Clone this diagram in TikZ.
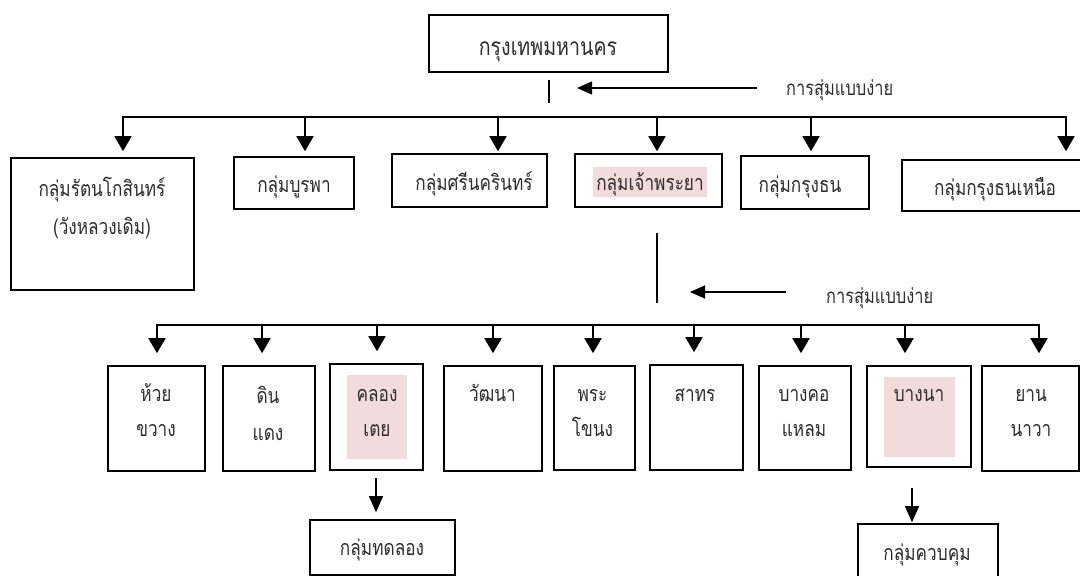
\documentclass[tikz,border=0pt]{standalone}
\usepackage{fontspec}
\newfontfamily\thaifont[Script=Thai,FakeStretch=0.8]{Loma}
\usetikzlibrary{arrows.meta,calc}
\definecolor{hlpink}{RGB}{242,220,219}
\definecolor{txt}{RGB}{45,45,45}
\begin{document}
\begin{tikzpicture}[x=1pt,y=-1pt,
  box/.style={draw=black, line width=1.6pt, inner sep=0pt},
  hl/.style={fill=hlpink, draw=none, inner sep=0pt},
  tx/.style={font=\thaifont\fontsize{21.5}{21.5}\selectfont, text=txt, inner sep=0pt, anchor=base},
  txbig/.style={tx, font=\thaifont\fontsize{24.5}{24.5}\selectfont},
  txlab/.style={tx, font=\thaifont\fontsize{20.5}{20.5}\selectfont, anchor=base west},
  bus/.style={line width=1.8pt},
  arr/.style={line width=1.8pt, -{Triangle[length=15pt,width=17pt]}},
  arrsm/.style={line width=1.3pt, -{Triangle[length=16pt,width=14pt]}},
  samp/.style={line width=1.2pt, -{Triangle[length=15pt,width=13pt]}},
  thin/.style={line width=1.4pt}]
\clip (0,0) rectangle (1080,576);
\fill[white] (0,0) rectangle (1080,576);

% top
\node[box, minimum width=239pt, minimum height=57pt] (top) at (548.5,43.5) {};
\node[txbig] (ttop) at (548,55) {กรุงเทพมหานคร};
\coordinate (v1a) at (549,80);
\coordinate (v1b) at (549,103);
\draw[thin] (v1a) -- (v1b);
\coordinate (a1) at (577,88);
\node[txlab] (L1) at (786,95) {การสุ่มแบบง่าย};
\draw[samp, shorten <=29pt] (L1.west |- a1) -- (a1);

% row 1 boxes
\node[box, minimum width=183pt, minimum height=132pt] (b1) at (102.5,224) {};
\node[tx] (t1a) at (102,196) {กลุ่มรัตนโกสินทร์};
\node[tx] (t1b) at (102,234) {(วังหลวงเดิม)};
\node[box, minimum width=120pt, minimum height=52pt] (b2) at (294,183) {};
\node[tx] (t2) at (294,192) {กลุ่มบูรพา};
\node[box, minimum width=155pt, minimum height=53pt] (b3) at (469.5,180.5) {};
\node[tx] (t3) at (474,190) {กลุ่มศรีนครินทร์};
\node[box, minimum width=147pt, minimum height=53pt] (b4) at (648.5,180.5) {};
\node[hl, minimum width=114pt, minimum height=30pt] (h4) at (650,182) {};
\node[tx] (t4) at (650,190) {กลุ่มเจ้าพระยา};
\node[box, minimum width=128pt, minimum height=53pt] (b5) at (805,182.5) {};
\node[tx] (t5) at (800,192) {กลุ่มกรุงธน};
\node[box, minimum width=186pt, minimum height=51pt] (b6) at (995,185.5) {};
\node[tx] (t6) at (995,195) {กลุ่มกรุงธนเหนือ};

% row 1 connectors
\coordinate (j1) at (123,117);
\coordinate (j2) at (305,117);
\coordinate (j3) at (498,117);
\coordinate (j4) at (657,117);
\coordinate (j5) at (811,117);
\coordinate (j6) at (1066,117);
\draw[bus] ([xshift=-0.9pt]j1) -- ([xshift=0.9pt]j6);
\draw[arr, shorten >=6pt] (j1) -- (j1 |- b1.north);
\draw[arr, shorten >=5pt] (j2) -- (j2 |- b2.north);
\draw[arr, shorten >=2pt] (j3) -- (j3 |- b3.north);
\draw[arr, shorten >=2pt] (j4) -- (j4 |- b4.north);
\draw[arr, shorten >=4pt] (j5) -- (j5 |- b5.north);
\draw[arr, shorten >=8pt] (j6) -- (j6 |- b6.north);

% second sampling
\coordinate (v2b) at (657,303);
\draw[thin, shorten <=25pt] (v2b |- b4.south) -- (v2b);
\coordinate (a2) at (690,292);
\node[txlab] (L2) at (826,303) {การสุ่มแบบง่าย};
\draw[samp, shorten <=40pt] (L2.west |- a2) -- (a2);

% row 2 boxes
\node[box, minimum width=97pt, minimum height=105pt] (c1) at (156.5,418.5) {};
\node[tx] (u1a) at (156,401) {ห้วย};
\node[tx] (u1b) at (156,436) {ขวาง};
\node[box, minimum width=92pt, minimum height=105pt] (c2) at (269,418.5) {};
\node[tx] (u2a) at (268,403) {ดิน};
\node[tx] (u2b) at (268,440) {แดง};
\node[box, minimum width=93pt, minimum height=106pt] (c3) at (376.5,417) {};
\node[hl, minimum width=60pt, minimum height=84pt] (h3) at (377,417) {};
\node[tx] (u3a) at (377,401) {คลอง};
\node[tx] (u3b) at (377,436) {เตย};
\node[box, minimum width=98pt, minimum height=105pt] (c4) at (493,418.5) {};
\node[tx] (u4) at (492.5,401) {วัฒนา};
\node[box, minimum width=81pt, minimum height=104pt] (c5) at (594.5,418) {};
\node[tx] (u5a) at (592.5,401) {พระ};
\node[tx] (u5b) at (592.5,436) {โขนง};
\node[box, minimum width=93pt, minimum height=105pt] (c6) at (696.5,417.5) {};
\node[tx] (u6) at (695,401) {สาทร};
\node[box, minimum width=92pt, minimum height=104pt] (c7) at (805,418) {};
\node[tx] (u7a) at (804,401) {บางคอ};
\node[tx] (u7b) at (804,436) {แหลม};
\node[box, minimum width=104pt, minimum height=101pt] (c8) at (919,416.5) {};
\node[hl, minimum width=71pt, minimum height=80pt] (h8) at (919.5,417) {};
\node[tx] (u8) at (919,401) {บางนา};
\node[box, minimum width=97pt, minimum height=105pt] (c9) at (1030.5,418.5) {};
\node[tx] (u9a) at (1031,401) {ยาน};
\node[tx] (u9b) at (1031,436) {นาวา};

% row 2 connectors
\coordinate (k1) at (157,325);
\coordinate (k2) at (262,325);
\coordinate (k3) at (377,325);
\coordinate (k4) at (493,325);
\coordinate (k5) at (593,325);
\coordinate (k6) at (694,325);
\coordinate (k7) at (801,325);
\coordinate (k8) at (905,325);
\coordinate (k9) at (1039,325);
\draw[bus] ([xshift=-0.9pt]k1) -- ([xshift=0.9pt]k9);
\foreach \k/\c in {k1/c1,k2/c2,k3/c3,k4/c4,k5/c5,k6/c6,k7/c7,k8/c8,k9/c9}
  \draw[arr, shorten >=12pt] (\k) -- (\k |- \c.north);

% bottom
\node[box, minimum width=145pt, minimum height=55pt] (exp) at (382.5,547.5) {};
\node[tx] (texp) at (382,555) {กลุ่มทดลอง};
\node[box, minimum width=140pt, minimum height=58pt] (ctl) at (928,553) {};
\node[tx] (tctl) at (927,560) {กลุ่มควบคุม};
\coordinate (m1) at (376,470);
\coordinate (m2) at (912,467);
\draw[arrsm, shorten <=8pt, shorten >=7pt] (m1) -- (m1 |- exp.north);
\draw[arrsm, shorten <=21pt, shorten >=1pt] (m2) -- (m2 |- ctl.north);
\end{tikzpicture}
\end{document}
